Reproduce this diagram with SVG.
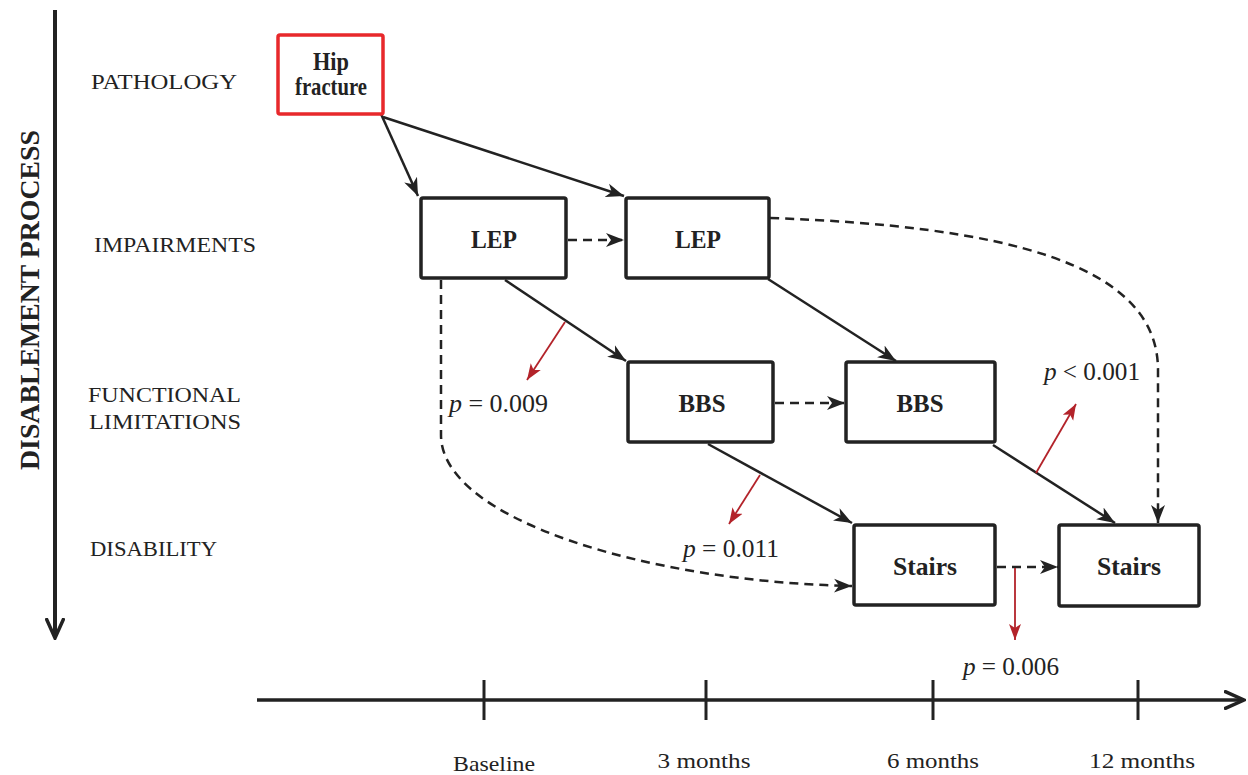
<svg xmlns="http://www.w3.org/2000/svg" width="1248" height="775" viewBox="0 0 1248 775">
<defs>
<marker id="ah" markerUnits="userSpaceOnUse" markerWidth="20" markerHeight="16" viewBox="0 0 20 16" refX="18" refY="8" orient="auto">
<path d="M0,1 L18,8 L0,15 L5,8 z" fill="#222"/>
</marker>
<marker id="ahr" markerUnits="userSpaceOnUse" markerWidth="18" markerHeight="14" viewBox="0 0 18 14" refX="16" refY="7" orient="auto">
<path d="M0,1 L16,7 L0,13 L4,7 z" fill="#b3232a"/>
</marker>
<marker id="ahb" markerUnits="userSpaceOnUse" markerWidth="22" markerHeight="20" viewBox="0 0 22 20" refX="20" refY="10" orient="auto">
<path d="M0,1 L20,10 L0,19" fill="none" stroke="#222" stroke-width="3.5"/>
</marker>
</defs>
<style>
.box{fill:#fff;stroke:#222;stroke-width:3.5;}
.red{fill:#fff;stroke:#e8282b;stroke-width:3.5;}
.bt{font-family:"Liberation Serif",serif;font-weight:bold;font-size:25px;fill:#222;text-anchor:middle;}
.lab{font-family:"Liberation Serif",serif;font-size:22px;fill:#222;}
.pv{font-family:"Liberation Serif",serif;font-size:25px;fill:#222;}
.tl{font-family:"Liberation Serif",serif;font-size:22px;fill:#222;text-anchor:middle;}
.s{fill:none;stroke:#222;stroke-width:2.5;marker-end:url(#ah);}
.d{fill:none;stroke:#222;stroke-width:2.5;stroke-dasharray:9 6;marker-end:url(#ah);}
.r{fill:none;stroke:#b3232a;stroke-width:1.8;marker-end:url(#ahr);}
</style>
<g id="axis-process">
<line x1="55" y1="10" x2="55" y2="638" stroke="#222" stroke-width="4" marker-end="url(#ahb)"/>
<text transform="translate(39,300) rotate(-90)" font-family="Liberation Serif,serif" font-weight="bold" font-size="27" fill="#222" text-anchor="middle" textLength="340" lengthAdjust="spacingAndGlyphs">DISABLEMENT PROCESS</text>
</g>
<g id="levels">
<text class="lab" x="91" y="89" textLength="146" lengthAdjust="spacingAndGlyphs">PATHOLOGY</text>
<text class="lab" x="94" y="252" textLength="162" lengthAdjust="spacingAndGlyphs">IMPAIRMENTS</text>
<text class="lab" x="88" y="402" textLength="153" lengthAdjust="spacingAndGlyphs">FUNCTIONAL</text>
<text class="lab" x="89" y="429" textLength="152" lengthAdjust="spacingAndGlyphs">LIMITATIONS</text>
<text class="lab" x="90" y="556" textLength="127" lengthAdjust="spacingAndGlyphs">DISABILITY</text>
</g>
<g id="timeline">
<line x1="257" y1="700" x2="1244" y2="700" stroke="#222" stroke-width="3.5" marker-end="url(#ahb)"/>
<line x1="484" y1="680" x2="484" y2="720" stroke="#222" stroke-width="3"/>
<line x1="706" y1="680" x2="706" y2="720" stroke="#222" stroke-width="3"/>
<line x1="933" y1="680" x2="933" y2="720" stroke="#222" stroke-width="3"/>
<line x1="1138" y1="680" x2="1138" y2="720" stroke="#222" stroke-width="3"/>
<text class="tl" x="494" y="771" textLength="82" lengthAdjust="spacingAndGlyphs">Baseline</text>
<text class="tl" x="704" y="768" textLength="93" lengthAdjust="spacingAndGlyphs">3 months</text>
<text class="tl" x="933" y="768" textLength="92" lengthAdjust="spacingAndGlyphs">6 months</text>
<text class="tl" x="1142" y="768" textLength="106" lengthAdjust="spacingAndGlyphs">12 months</text>
</g>
<g id="connectors">
<line class="s" x1="381" y1="114" x2="418" y2="196"/>
<line class="s" x1="383" y1="117" x2="624" y2="196"/>
<line class="d" x1="568" y1="240" x2="624" y2="240"/>
<path class="d" d="M770,218 C1000,226 1158,262 1158,370 L1158,523"/>
<path class="d" d="M441,280 L441,435 C441,520 650,582 852,586"/>
<line class="s" x1="505" y1="280" x2="626" y2="361"/>
<line class="s" x1="768" y1="279" x2="896" y2="361"/>
<line class="d" x1="775" y1="403" x2="845" y2="403"/>
<line class="s" x1="708" y1="444" x2="852" y2="523"/>
<line class="s" x1="993" y1="445" x2="1115" y2="523"/>
<line class="d" x1="997" y1="567" x2="1058" y2="567"/>
<line class="r" x1="565" y1="322" x2="527" y2="380"/>
<line class="r" x1="760" y1="475" x2="729" y2="524"/>
<line class="r" x1="1036" y1="473" x2="1076" y2="404"/>
<line class="r" x1="1015" y1="568" x2="1015" y2="640"/>
</g>
<g id="hip"><rect class="red" x="278" y="35" width="105" height="79" rx="2"/>
<text class="bt" x="331" y="70" font-size="17" textLength="36" lengthAdjust="spacingAndGlyphs">Hip</text><text class="bt" x="331" y="95" font-size="17" textLength="72" lengthAdjust="spacingAndGlyphs">fracture</text></g>
<g id="lep1"><rect class="box" x="421" y="198" width="145" height="80" rx="2"/><text class="bt" x="494" y="248" textLength="46" lengthAdjust="spacingAndGlyphs">LEP</text></g>
<g id="lep2"><rect class="box" x="626" y="198" width="143" height="80" rx="2"/><text class="bt" x="698" y="248" textLength="46" lengthAdjust="spacingAndGlyphs">LEP</text></g>
<g id="bbs1"><rect class="box" x="628" y="362" width="145" height="80" rx="2"/><text class="bt" x="702" y="412" textLength="47" lengthAdjust="spacingAndGlyphs">BBS</text></g>
<g id="bbs2"><rect class="box" x="846" y="362" width="149" height="80" rx="2"/><text class="bt" x="920" y="412" textLength="47" lengthAdjust="spacingAndGlyphs">BBS</text></g>
<g id="stairs1"><rect class="box" x="854" y="525" width="141" height="80" rx="2"/><text class="bt" x="925" y="575" textLength="64" lengthAdjust="spacingAndGlyphs">Stairs</text></g>
<g id="stairs2"><rect class="box" x="1059" y="525" width="140" height="81" rx="2"/><text class="bt" x="1129" y="575" textLength="64" lengthAdjust="spacingAndGlyphs">Stairs</text></g>
<g id="pvalues">
<text class="pv" x="449" y="412" textLength="99" lengthAdjust="spacingAndGlyphs"><tspan font-style="italic">p</tspan> = 0.009</text>
<text class="pv" x="683" y="557" textLength="96" lengthAdjust="spacingAndGlyphs"><tspan font-style="italic">p</tspan> = 0.011</text>
<text class="pv" x="1044" y="380" textLength="96" lengthAdjust="spacingAndGlyphs"><tspan font-style="italic">p</tspan> &lt; 0.001</text>
<text class="pv" x="963" y="675" textLength="96" lengthAdjust="spacingAndGlyphs"><tspan font-style="italic">p</tspan> = 0.006</text>
</g>
</svg>
